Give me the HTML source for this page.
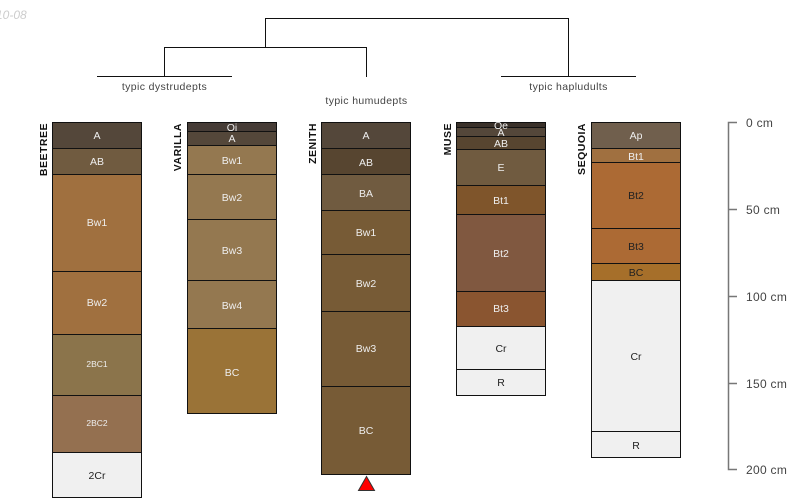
<!DOCTYPE html>
<html><head><meta charset="utf-8">
<style>
html,body{margin:0;padding:0;background:#fff;width:800px;height:500px;overflow:hidden}
svg{display:block}
text{font-family:"Liberation Sans",sans-serif}
.h{font-size:10.5px;text-anchor:middle;fill:#eee}
.d{fill:#222}
.s{font-size:8.5px}
.t{font-size:10.5px;text-anchor:middle;fill:#444;letter-spacing:.38px}
.n{font-size:10.5px;font-weight:bold;fill:#111;text-anchor:end;letter-spacing:.5px}
.c{font-size:12px;fill:#444;letter-spacing:.3px}
rect{stroke:#111;stroke-width:1}
</style></head><body>
<svg width="800" height="500" viewBox="0 0 800 500" xmlns="http://www.w3.org/2000/svg">
<text x="-4" y="19" font-size="12" font-style="italic" fill="#ccc">10-08</text>
<g fill="none" stroke="#111" stroke-width="1">
<path d="M97 76.500H232M164.500 76V47.500H366.500V77M265.500 47V18.500H568.500V76M501 76.500H636"/>
</g>
<text class="t" x="164.500" y="90">typic dystrudepts</text>
<text class="t" x="366.500" y="104">typic humudepts</text>
<text class="t" x="568.500" y="90">typic hapludults</text>

<g>
<rect x="52.500" y="122.500" width="89" height="26" fill="#54473a"/><text class="h" x="97" y="139">A</text>
<rect x="52.500" y="148.500" width="89" height="26" fill="#705b40"/><text class="h" x="97" y="165">AB</text>
<rect x="52.500" y="174.500" width="89" height="97" fill="#a0703f"/><text class="h" x="97" y="226">Bw1</text>
<rect x="52.500" y="271.500" width="89" height="63" fill="#a0703f"/><text class="h" x="97" y="306">Bw2</text>
<rect x="52.500" y="334.500" width="89" height="61" fill="#8b744b"/><text class="h s" x="97" y="367">2BC1</text>
<rect x="52.500" y="395.500" width="89" height="57" fill="#947050"/><text class="h s" x="97" y="426">2BC2</text>
<rect x="52.500" y="452.500" width="89" height="45" fill="#f0f0f0"/><text class="h d" x="97" y="479">2Cr</text>
<text class="n" transform="translate(47,123) rotate(-90)">BEETREE</text>
</g>

<g>
<rect x="187.500" y="122.500" width="89" height="9" fill="#463c36"/><text class="h" x="232" y="131">Oi</text>
<rect x="187.500" y="131.500" width="89" height="14" fill="#54473a"/><text class="h" x="232" y="142">A</text>
<rect x="187.500" y="145.500" width="89" height="29" fill="#947850"/><text class="h" x="232" y="164">Bw1</text>
<rect x="187.500" y="174.500" width="89" height="45" fill="#947850"/><text class="h" x="232" y="201">Bw2</text>
<rect x="187.500" y="219.500" width="89" height="61" fill="#947850"/><text class="h" x="232" y="254">Bw3</text>
<rect x="187.500" y="280.500" width="89" height="48" fill="#947850"/><text class="h" x="232" y="309">Bw4</text>
<rect x="187.500" y="328.500" width="89" height="85" fill="#9a7337"/><text class="h" x="232" y="376">BC</text>
<text class="n" transform="translate(181,123) rotate(-90)">VARILLA</text>
</g>

<g>
<rect x="321.500" y="122.500" width="89" height="26" fill="#54473a"/><text class="h" x="366" y="139">A</text>
<rect x="321.500" y="148.500" width="89" height="26" fill="#574530"/><text class="h" x="366" y="166">AB</text>
<rect x="321.500" y="174.500" width="89" height="36" fill="#705b40"/><text class="h" x="366" y="197">BA</text>
<rect x="321.500" y="210.500" width="89" height="44" fill="#775b36"/><text class="h" x="366" y="236">Bw1</text>
<rect x="321.500" y="254.500" width="89" height="57" fill="#775b36"/><text class="h" x="366" y="287">Bw2</text>
<rect x="321.500" y="311.500" width="89" height="75" fill="#775b36"/><text class="h" x="366" y="352">Bw3</text>
<rect x="321.500" y="386.500" width="89" height="88" fill="#775b36"/><text class="h" x="366" y="434">BC</text>
<text class="n" transform="translate(316,123) rotate(-90)">ZENITH</text>
<path d="M358.500 490.500L366.500 476.500L374.500 490.500Z" fill="#f00" stroke="#333" stroke-width="1"/>
</g>

<g>
<rect x="456.500" y="122.500" width="89" height="5" fill="#3a312a"/>
<rect x="456.500" y="127.500" width="89" height="9" fill="#54473a"/>
<rect x="456.500" y="136.500" width="89" height="13" fill="#574530"/>
<rect x="456.500" y="149.500" width="89" height="36" fill="#705b40"/><text class="h" x="501" y="171">E</text>
<rect x="456.500" y="185.500" width="89" height="29" fill="#7f552b"/><text class="h" x="501" y="204">Bt1</text>
<rect x="456.500" y="214.500" width="89" height="77" fill="#805840"/><text class="h" x="501" y="257">Bt2</text>
<rect x="456.500" y="291.500" width="89" height="35" fill="#8a5530"/><text class="h" x="501" y="312">Bt3</text>
<rect x="456.500" y="326.500" width="89" height="43" fill="#f0f0f0"/><text class="h d" x="501" y="352">Cr</text>
<rect x="456.500" y="369.500" width="89" height="26" fill="#f0f0f0"/><text class="h d" x="501" y="386">R</text>
<text class="h" x="501" y="129">Oe</text>
<text class="h" x="501" y="136">A</text>
<text class="h" x="501" y="147">AB</text>
<text class="n" transform="translate(451,123) rotate(-90)">MUSE</text>
</g>

<g>
<rect x="591.500" y="122.500" width="89" height="26" fill="#705f4d"/><text class="h" x="636" y="139">Ap</text>
<rect x="591.500" y="148.500" width="89" height="14" fill="#a07040"/><text class="h" x="636" y="160">Bt1</text>
<rect x="591.500" y="162.500" width="89" height="66" fill="#ac6a34"/><text class="h d" x="636" y="199">Bt2</text>
<rect x="591.500" y="228.500" width="89" height="35" fill="#ac6a34"/><text class="h d" x="636" y="250">Bt3</text>
<rect x="591.500" y="263.500" width="89" height="17" fill="#a66f2a"/><text class="h d" x="636" y="276">BC</text>
<rect x="591.500" y="280.500" width="89" height="151" fill="#f0f0f0"/><text class="h d" x="636" y="360">Cr</text>
<rect x="591.500" y="431.500" width="89" height="26" fill="#f0f0f0"/><text class="h d" x="636" y="449">R</text>
<text class="n" transform="translate(585,123) rotate(-90)">SEQUOIA</text>
</g>

<g fill="none" stroke="#777" stroke-width="1.500">
<path d="M737 122.500H728.500V469.500H737M729 209.500H737M729 296.500H737M729 383.500H737"/>
</g>
<text class="c" x="746" y="127">0 cm</text>
<text class="c" x="746" y="214">50 cm</text>
<text class="c" x="746" y="301">100 cm</text>
<text class="c" x="746" y="388">150 cm</text>
<text class="c" x="746" y="474">200 cm</text>
</svg>
</body></html>
